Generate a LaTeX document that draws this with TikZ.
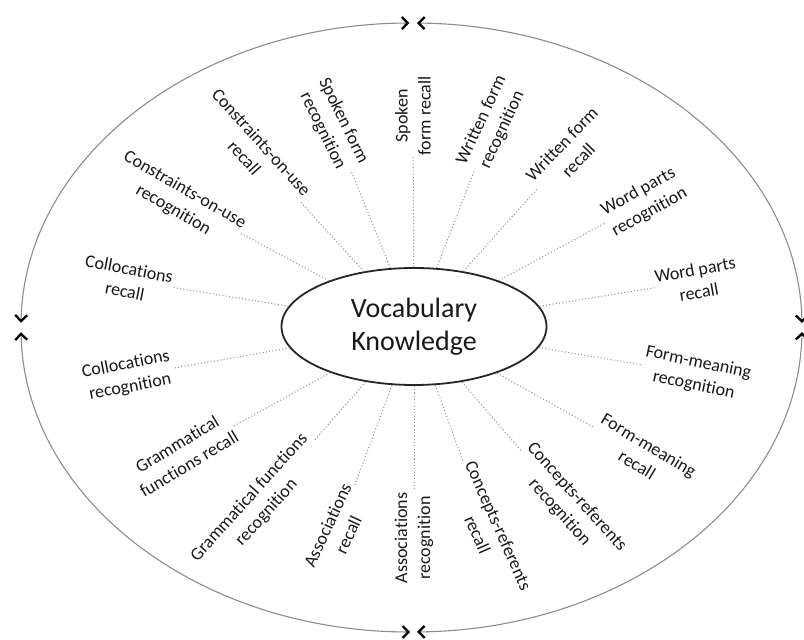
\documentclass[tikz,border=0pt]{standalone}
\usepackage{fontspec}
\setmainfont{Carlito}[Ligatures={NoCommon}]
\usetikzlibrary{arrows.meta,shapes.geometric}
\tikzset{
  chev/.tip={Straight Barb[length=6bp,width=12bp,line width=2.3bp,color=black]},
  outerarc/.style={draw=black!45,line width=1.1bp,chev-chev},
  lab/.style={align=center,font=\fontsize{18bp}{23bp}\selectfont,inner sep=1.5bp,text=black!90},
  spoke/.style={draw=black!42,line width=1bp,dash pattern=on 1.1bp off 2.2bp},
  hub/.style={ellipse,draw=black!85,line width=1.8bp,minimum width=265bp,minimum height=117bp,inner sep=0pt,align=center,font=\fontsize{28bp}{33bp}\selectfont,text=black!90}
}
\begin{document}
\begin{tikzpicture}[x=1bp,y=1bp]
\useasboundingbox (0,0) rectangle (804,640);
% outer ellipse in four arcs
\coordinate (oc) at (411.5,312.5);
\draw[outerarc] (oc) ++(90.3:390.5 and 304.5) arc[start angle=90.3,end angle=179.1,x radius=390.5,y radius=304.5];
\draw[outerarc] (oc) ++(180.9:390.5 and 304.5) arc[start angle=180.9,end angle=269.8,x radius=390.5,y radius=304.5];
\draw[outerarc] (oc) ++(270.8:390.5 and 304.5) arc[start angle=270.8,end angle=359.15,x radius=390.5,y radius=304.5];
\draw[outerarc] (oc) ++(0.85:390.5 and 304.5) arc[start angle=0.85,end angle=89.2,x radius=390.5,y radius=304.5];
% hub
\node[hub] (vk) at (414,313.5) {Vocabulary\\Knowledge};
% labels
\node[lab,rotate=90]  (sfr) at (413,524) {Spoken\\form recall};
\node[lab,rotate=65]  (wfg) at (492,515) {Written form\\recognition};
\node[lab,rotate=46]  (wfr) at (570,488) {Written form\\recall};
\node[lab,rotate=29]  (wpg) at (644,438) {Word parts\\recognition};
\node[lab,rotate=10]  (wpr) at (697,359) {Word parts\\recall};
\node[lab,rotate=-12] (fmg) at (696,266) {Form-meaning\\recognition};
\node[lab,rotate=-31] (fmr) at (643,185) {Form-meaning\\recall};
\node[lab,rotate=-48] (crg) at (568,135) {Concepts-referents\\recognition};
\node[lab,rotate=-66] (crr) at (488,110) {Concepts-referents\\recall};
\node[lab,rotate=90]  (asg) at (414,102) {Associations\\recognition};
\node[lab,rotate=65]  (asr) at (338,110) {Associations\\recall};
\node[lab,rotate=48]  (gfg) at (258,135) {Grammatical functions\\recognition};
\node[lab,rotate=31]  (gfr) at (183,186) {Grammatical\\functions recall};
\node[lab,rotate=11]  (cog) at (128,264) {Collocations\\recognition};
\node[lab,rotate=-11] (cor) at (127,360) {Collocations\\recall};
\node[lab,rotate=-30] (cug) at (179,440) {Constraints-on-use\\recognition};
\node[lab,rotate=-48] (cur) at (253,490) {Constraints-on-use\\recall};
\node[lab,rotate=-64] (sfg) at (333,514) {Spoken form\\recognition};
% spokes
\foreach \n in {sfr,wfg,wfr,wpg,wpr,fmg,fmr,crg,crr,asg,asr,gfg,gfr,cog,cor,cug,cur,sfg}
  \draw[spoke] (vk) -- (\n);
\end{tikzpicture}
\end{document}
